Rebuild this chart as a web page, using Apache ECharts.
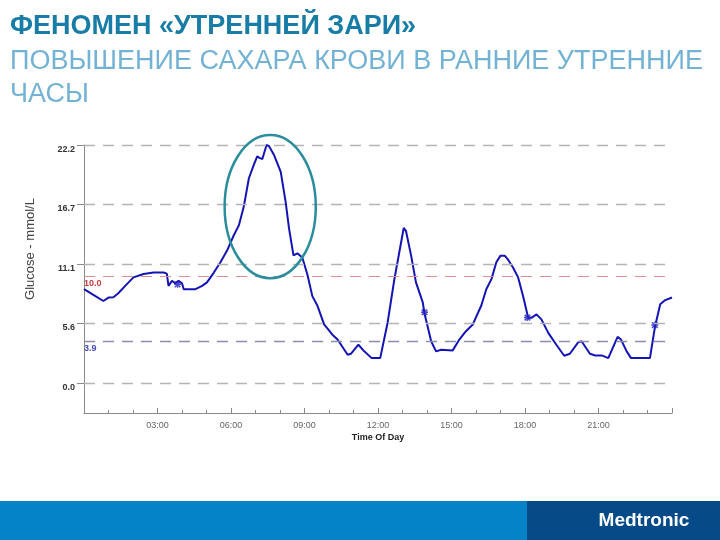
<!DOCTYPE html>
<html>
<head>
    <meta charset="utf-8">
    <title>Феномен утренней зари</title>
    <script src="https://cdn.jsdelivr.net/npm/echarts@6/dist/echarts.min.js"></script>
    <style>
        html, body {margin: 0; padding: 0; background: #fff;}
        #chart {width: 720px; height: 540px;}
    </style>
</head>
<body>
<div id="chart"></div>
<script>
    // время суток, часы
    var hours = [0.00, 0.40, 0.79, 1.00, 1.20, 1.40, 1.68, 2.02, 2.43, 2.84, 3.25, 3.38, 3.45, 3.59, 3.72, 3.86, 4.00, 4.07,
        4.55, 4.82, 5.02, 5.30, 5.57, 5.84, 6.11, 6.32, 6.52, 6.73, 6.93, 7.07, 7.16, 7.28, 7.45, 7.55, 7.75, 8.03, 8.23,
        8.37, 8.55, 8.71, 8.91, 9.12, 9.32, 9.53, 9.80, 10.14, 10.35, 10.76, 10.90, 11.20, 11.44, 11.74, 12.09, 12.39,
        12.67, 13.05, 13.14, 13.35, 13.55, 13.83, 13.89, 14.17, 14.37, 14.58, 15.05, 15.32, 15.59, 15.87, 16.22, 16.42,
        16.63, 16.83, 17.00, 17.17, 17.31, 17.51, 17.72, 17.92, 18.13, 18.26, 18.47, 18.67, 18.95, 19.28, 19.60, 19.83,
        20.17, 20.31, 20.65, 20.86, 21.13, 21.40, 21.61, 21.78, 21.92, 22.15, 22.33, 23.10, 23.31, 23.52, 23.70, 24.00];
    // глюкоза, ммоль/л
    var glucose = [8.75, 8.2, 7.65, 7.97, 8.0, 8.37, 9.06, 9.85, 10.16, 10.3, 10.3, 10.2, 9.06, 9.53, 9.3, 9.53, 9.3, 8.75,
        8.75, 9.06, 9.38, 10.3, 11.26, 12.35, 13.76, 14.7, 16.43, 19.1, 20.35, 21.14, 21.0, 20.9, 22.2, 22.1, 21.3, 19.7, 16.9,
        14.4, 11.9, 12.1, 11.7, 10.1, 8.1, 7.2, 5.46, 4.5, 4.05, 2.63, 2.73, 3.57, 2.95, 2.32, 2.32, 5.6,
        9.7, 14.46, 14.2, 11.9, 9.38, 7.5, 6.56, 3.89, 2.95, 3.1, 3.04, 4.05, 4.83, 5.46, 7.25, 8.75,
        9.69, 11.26, 11.88, 11.88, 11.5, 10.78, 9.85, 8.12, 6.08, 6.08, 6.4, 5.93, 4.67, 3.57, 2.54, 2.73,
        3.79, 3.89, 2.73, 2.57, 2.57, 2.32, 3.41, 4.3, 4.05, 2.95, 2.32, 2.32, 5.3, 7.34, 7.7, 7.97];
    // отметки калибровки
    var calibHours = [3.82, 13.9, 18.1, 23.3];
    var calibGlucose = [9.2, 6.6, 6.1, 5.4];

    var yTickValues = [0, 5.55, 11.1, 16.65, 22.2];
    var yTickLabels = ['0.0', '5.6', '11.1', '16.7', '22.2'];
    var highLimit = 10.0;
    var lowLimit = 3.9;

    var chart = echarts.init(document.getElementById('chart'));

    var lineData = hours.map(function (h, i) { return [h, glucose[i]]; });
    var calibData = calibHours.map(function (h, i) { return [h, calibGlucose[i]]; });

    var gridLines = yTickValues.map(function (v) {
        return {yAxis: v, lineStyle: {color: '#b4b4b4', type: [11, 8], width: 1.4}, label: {show: false}};
    });
    gridLines.push({
        yAxis: highLimit,
        lineStyle: {color: '#d89090', type: [11, 8], width: 1},
        label: {show: true, position: 'insideStartBottom', formatter: '10.0', color: '#c83a3a', fontSize: 9, fontWeight: 'bold', distance: [0, 3]}
    });
    gridLines.push({
        yAxis: lowLimit,
        lineStyle: {color: '#8c8cb0', type: [11, 8], width: 1.4},
        label: {show: true, position: 'insideStartBottom', formatter: '3.9', color: '#4848b8', fontSize: 9, fontWeight: 'bold', distance: [0, 3]}
    });

    var option = {
        animation: false,
        textStyle: {fontFamily: 'Liberation Sans, Arial, sans-serif'},
        grid: {left: 84, right: 48, top: 145, bottom: 127},
        xAxis: {
            type: 'value',
            min: 0,
            max: 24,
            interval: 3,
            name: 'Time Of Day',
            nameLocation: 'middle',
            nameGap: 20,
            nameTextStyle: {fontSize: 9, fontWeight: 'bold', color: '#222'},
            axisLine: {onZero: false, lineStyle: {color: '#8a8a8a', width: 1}},
            axisTick: {inside: true, length: 5, lineStyle: {color: '#8a8a8a'}},
            minorTick: {show: true, splitNumber: 3, length: 3, lineStyle: {color: '#8a8a8a'}},
            splitLine: {show: false},
            axisLabel: {
                color: '#666', fontSize: 9, margin: 8,
                showMinLabel: false, showMaxLabel: false,
                formatter: function (v) { return (v < 10 ? '0' : '') + v + ':00'; }
            }
        },
        yAxis: {
            type: 'value',
            min: -2.8,
            max: 22.2,
            axisLine: {show: true, lineStyle: {color: '#8a8a8a', width: 1}},
            axisTick: {show: true, length: 7, customValues: yTickValues, lineStyle: {color: '#8a8a8a'}},
            splitLine: {show: false},
            axisLabel: {
                customValues: yTickValues,
                color: '#333', fontSize: 9, fontWeight: 'bold', margin: 9, verticalAlign: 'top',
                formatter: function (v) {
                    var i = yTickValues.indexOf(v);
                    return i >= 0 ? yTickLabels[i] : '';
                }
            }
        },
        series: [{
            type: 'line',
            data: lineData,
            showSymbol: false,
            clip: false,
            lineStyle: {color: '#1414b4', width: 2},
            markLine: {silent: true, symbol: 'none', data: gridLines},
            z: 3
        }, {
            type: 'scatter',
            data: calibData,
            symbol: 'path://M0,5 L10,5 M5,0 L5,10 M1,1 L9,9 M9,1 L1,9',
            symbolSize: 7,
            itemStyle: {color: 'none', borderColor: '#2020c0', borderWidth: 1.5},
            z: 4
        }]
    };
    chart.setOption(option);

    // эллипс вокруг пика + заголовок и нижняя полоса
    var c = chart.convertToPixel({gridIndex: 0}, [7.6, 16.45]);
    var e = chart.convertToPixel({gridIndex: 0}, [7.6 + 1.86, 16.45 + 6.68]);

    chart.setOption({
        graphic: [
            {
                type: 'ellipse', z: 10, silent: true,
                shape: {cx: c[0], cy: c[1], rx: e[0] - c[0], ry: c[1] - e[1]},
                style: {fill: 'none', stroke: '#2a8d9c', lineWidth: 2.5}
            },
            {
                type: 'text', x: 30, y: 249, rotation: Math.PI / 2,
                style: {text: 'Glucose - mmol/L', fill: '#444', font: '13px Liberation Sans', align: 'center', verticalAlign: 'middle'}
            },
            {
                type: 'text', x: 10, y: 27,
                style: {text: 'ФЕНОМЕН «УТРЕННЕЙ ЗАРИ»', fill: '#177ca6', font: 'bold 27px Liberation Sans', verticalAlign: 'middle'}
            },
            {
                type: 'text', x: 10, y: 62,
                style: {text: 'ПОВЫШЕНИЕ САХАРА КРОВИ В РАННИЕ УТРЕННИЕ', fill: '#72b2d4', font: '27px Liberation Sans', verticalAlign: 'middle'}
            },
            {
                type: 'text', x: 10, y: 95,
                style: {text: 'ЧАСЫ', fill: '#72b2d4', font: '27px Liberation Sans', verticalAlign: 'middle'}
            },
            {
                type: 'rect', shape: {x: 0, y: 501, width: 527, height: 39},
                style: {fill: '#0483c9'}
            },
            {
                type: 'rect', shape: {x: 527, y: 501, width: 193, height: 39},
                style: {fill: '#064b87'}
            },
            {
                type: 'text', x: 644, y: 521,
                style: {text: 'Medtronic', fill: '#fff', font: 'bold 19px Liberation Sans', align: 'center', verticalAlign: 'middle'}
            }
        ]
    });
</script>
</body>
</html>
